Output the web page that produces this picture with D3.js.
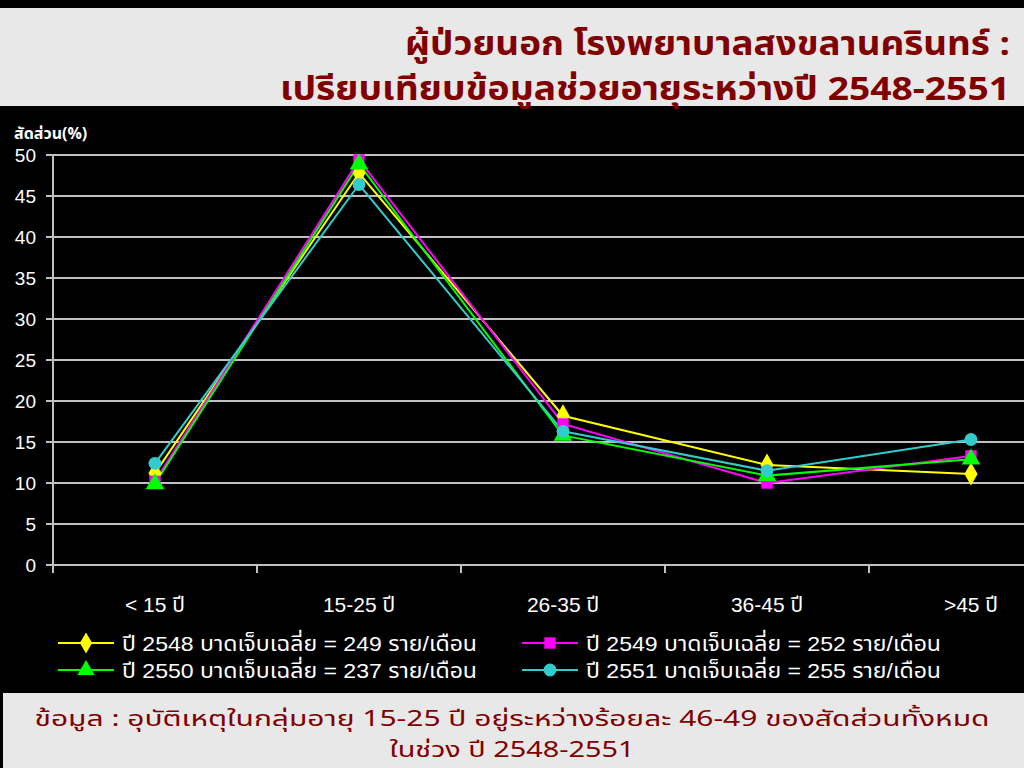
<!DOCTYPE html>
<html><head><meta charset="utf-8">
<script src="https://cdn.jsdelivr.net/npm/d3@7"></script>
<style>
html,body{margin:0;padding:0;background:#000;}
svg{display:block;}
</style></head>
<body>
<svg id="chart" width="1024" height="768"></svg>
<script>
const categories = ["< 15 ปี", "15-25 ปี", "26-35 ปี", "36-45 ปี", ">45 ปี"];
const yTicks = [0, 5, 10, 15, 20, 25, 30, 35, 40, 45, 50];
const s2548 = [11.2, 47.8, 18.2, 12.2, 11.1];
const s2549 = [10.2, 49.4, 17.2, 10.0, 13.3];
const s2550 = [9.9, 48.9, 15.8, 10.9, 12.9];
const s2551 = [12.4, 46.4, 16.3, 11.5, 15.3];
const seriesNames = [
  "ปี 2548 บาดเจ็บเฉลี่ย = 249 ราย/เดือน",
  "ปี 2549 บาดเจ็บเฉลี่ย = 252 ราย/เดือน",
  "ปี 2550 บาดเจ็บเฉลี่ย = 237 ราย/เดือน",
  "ปี 2551 บาดเจ็บเฉลี่ย = 255 ราย/เดือน"
];
const titleLines = ["ผู้ป่วยนอก โรงพยาบาลสงขลานครินทร์ :", "เปรียบเทียบข้อมูลช่วยอายุระหว่างปี 2548-2551"];
const footerLines = ["ข้อมูล : อุบัติเหตุในกลุ่มอายุ 15-25 ปี อยู่ระหว่างร้อยละ  46-49 ของสัดส่วนทั้งหมด", "ในช่วง ปี 2548-2551"];

const series = [
  {name: seriesNames[0], values: s2548, color: "#ffff00", shape: d3.symbolDiamond},
  {name: seriesNames[1], values: s2549, color: "#ff00ff", shape: d3.symbolSquare},
  {name: seriesNames[2], values: s2550, color: "#00ff00", shape: d3.symbolTriangle},
  {name: seriesNames[3], values: s2551, color: "#33cccc", shape: d3.symbolCircle}
];

const svg = d3.select("#chart");
const font = "'Liberation Sans', Arial, 'Noto Sans', 'Noto Sans Thai', sans-serif";
const tfont = "Tahoma, 'Noto Sans Thai', 'Noto Sans', 'DejaVu Sans', sans-serif";

// backgrounds
svg.append("rect").attr("x",0).attr("y",0).attr("width",1024).attr("height",768).attr("fill","#000");
svg.append("rect").attr("x",0).attr("y",8).attr("width",1024).attr("height",98).attr("fill","#e8e8e8");
svg.append("rect").attr("x",3).attr("y",693).attr("width",1021).attr("height",75).attr("fill","#e8e8e8");

// title
const titleRight = 1010, titleWidths = [605, 730];
svg.append("g").selectAll("text").data(titleLines).join("text")
  .attr("x", (d,i)=> titleRight - titleWidths[i]).attr("y", (d,i)=> 55 + i*45)
  .attr("fill","#800000")
  .attr("font-family", tfont).attr("font-weight","bold").attr("font-size", 33)
  .attr("textLength", (d,i)=>titleWidths[i]).attr("lengthAdjust","spacingAndGlyphs")
  .text(d=>d);

// footer
const footerWidths = [955, 245];
svg.append("g").selectAll("text").data(footerLines).join("text")
  .attr("x", (d,i)=> 512 - footerWidths[i]/2).attr("y", (d,i)=> 726 + i*31)
  .attr("fill","#800000")
  .attr("font-family", tfont).attr("font-size", 22)
  .attr("textLength", (d,i)=>footerWidths[i]).attr("lengthAdjust","spacingAndGlyphs")
  .text(d=>d);

const x = d3.scaleBand().domain(categories).range([53, 1073]);
const y = d3.scaleLinear().domain([0, 50]).range([565, 155]);

// grid
const g = svg.append("g");
g.selectAll("line.grid").data(yTicks).join("line")
  .attr("class","grid")
  .attr("x1", 46).attr("x2", 1024)
  .attr("y1", d=>y(d)).attr("y2", d=>y(d))
  .attr("stroke","#c0c0c0").attr("stroke-width",2);
// y axis line
g.append("line").attr("x1",53).attr("x2",53).attr("y1",y(50)).attr("y2",573)
  .attr("stroke","#c0c0c0").attr("stroke-width",2);
// x ticks at band boundaries
g.selectAll("line.xt").data(categories.slice(1)).join("line")
  .attr("class","xt")
  .attr("x1", d=>x(d)).attr("x2", d=>x(d))
  .attr("y1", 565).attr("y2", 573)
  .attr("stroke","#c0c0c0").attr("stroke-width",2);

// y labels
g.selectAll("text.yl").data(yTicks).join("text")
  .attr("class","yl")
  .attr("x", 36).attr("y", d=>y(d)+7)
  .attr("text-anchor","end").attr("fill","#fff")
  .attr("font-family", font).attr("font-size", 19)
  .text(d=>d);

// y title
svg.append("text").attr("x", 14).attr("y", 139)
  .attr("fill","#fff").attr("font-family", tfont).attr("font-weight","bold").attr("font-size",16)
  .text("สัดส่วน(%)");

// x labels
g.selectAll("text.xl").data(categories).join("text")
  .attr("class","xl")
  .attr("x", d=>x(d)+x.bandwidth()/2).attr("y", 612)
  .attr("text-anchor","middle").attr("fill","#fff")
  .attr("font-family", font).attr("font-size", 21)
  .text(d=>d);

// lines
const line = d3.line().x((d,i)=>x(categories[i])+x.bandwidth()/2).y(d=>y(d));
const sg = svg.append("g");
series.forEach(s=>{
  sg.append("path").attr("d", line(s.values)).attr("fill","none")
    .attr("stroke", s.color).attr("stroke-width", 2);
});
series.forEach(s=>{
  sg.selectAll(null).data(s.values).join("path")
    .attr("d", d3.symbol().type(s.shape).size(s.shape===d3.symbolDiamond?150:s.shape===d3.symbolTriangle?150:130))
    .attr("transform", (d,i)=>`translate(${x(categories[i])+x.bandwidth()/2},${y(d)})`)
    .attr("fill", s.color);
});

// legend
const legPos = [[58,643],[522,643],[58,670],[522,670]];
const lg = svg.append("g");
series.forEach((s,i)=>{
  const [lx, ly] = legPos[i];
  lg.append("line").attr("x1",lx).attr("x2",lx+56).attr("y1",ly).attr("y2",ly)
    .attr("stroke", s.color).attr("stroke-width",2);
  lg.append("path").attr("d", d3.symbol().type(s.shape).size(130))
    .attr("transform",`translate(${lx+28},${ly})`).attr("fill", s.color);
  lg.append("text").attr("x", lx+64).attr("y", ly+8)
    .attr("fill","#fff").attr("font-family", font).attr("font-size",21)
    .attr("textLength", 355).attr("lengthAdjust","spacingAndGlyphs")
    .text(s.name);
});
</script>
</body></html>
